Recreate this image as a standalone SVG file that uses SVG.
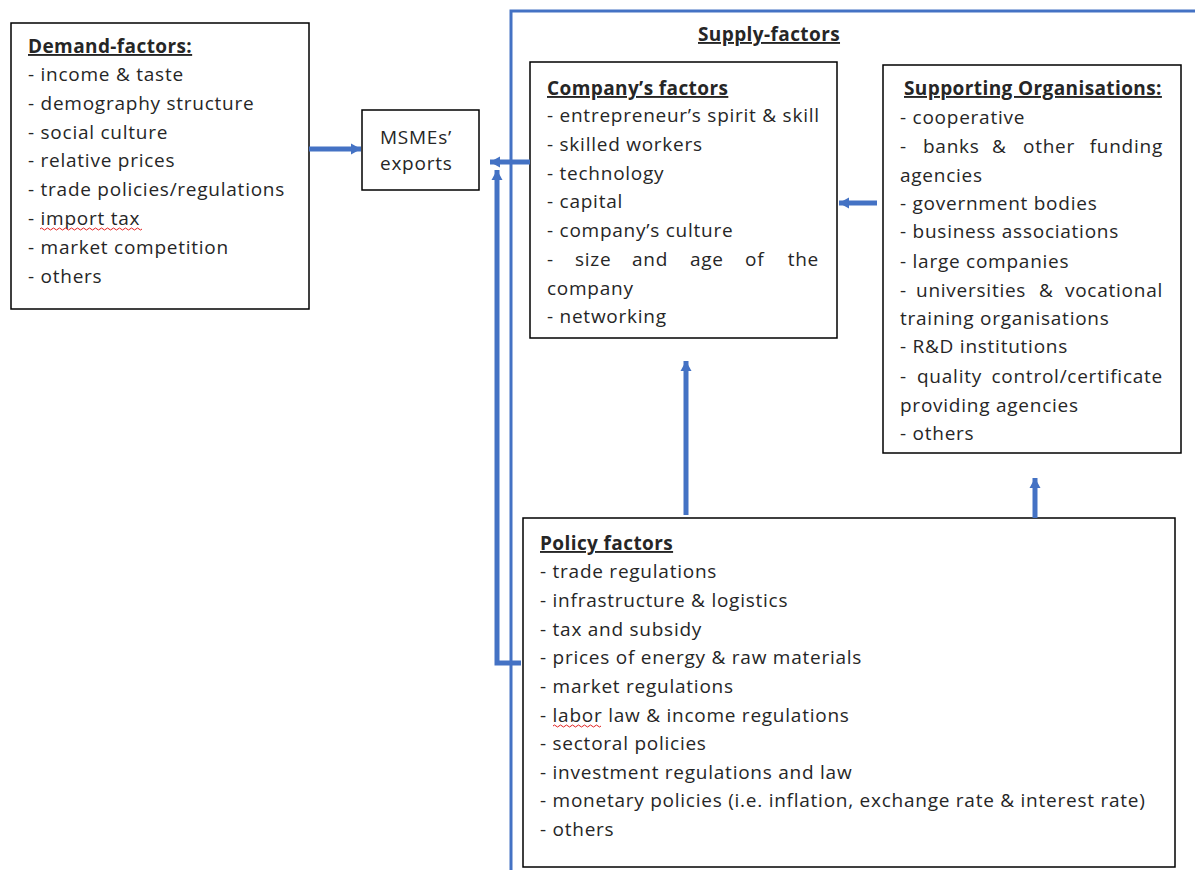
<svg xmlns="http://www.w3.org/2000/svg" width="1195" height="870" viewBox="0 0 1195 870">
<defs>
<style>
text{font-family:"Open Sans","Liberation Sans",sans-serif;font-size:19px;letter-spacing:0.75px;fill:#262626}
.h{font-weight:bold;text-decoration:underline;letter-spacing:0.4px}
.e{text-anchor:end}
.box{fill:#fff;stroke:#000;stroke-width:1.5}
.c{fill:none;stroke:#4472C4;stroke-width:5}
.sq{fill:none;stroke:#e02020;stroke-width:1}
</style>
<marker id="ah" markerUnits="userSpaceOnUse" markerWidth="14" markerHeight="14" refX="10" refY="7" orient="auto">
<path d="M0,1.5 L10,7 L0,12.5 Z" fill="#4472C4"/>
</marker>
</defs>
<rect width="1195" height="870" fill="#fff"/>
<g id="supply-frame">
<path d="M511,872 V11 H1197" fill="none" stroke="#4472C4" stroke-width="3"/>
<text x="698" y="41" class="h">Supply-factors</text>
</g>
<g id="demand">
<rect class="box" x="11" y="23" width="298" height="286"/>
<text x="28" y="53" class="h">Demand-factors:</text>
<text x="28" y="81">- income &amp; taste</text>
<text x="28" y="110">- demography structure</text>
<text x="28" y="139">- social culture</text>
<text x="28" y="167">- relative prices</text>
<text x="28" y="196">- trade policies/regulations</text>
<text x="28" y="225">- import tax</text>
<path class="sq" d="M40,229 q1.5,-2 3,0 t3,0 t3,0 t3,0 t3,0 t3,0 t3,0 t3,0 t3,0 t3,0 t3,0 t3,0 t3,0 t3,0 t3,0 t3,0 t3,0 t3,0 t3,0 t3,0 t3,0 t3,0 t3,0 t3,0 t3,0 t3,0 t3,0 t3,0 t3,0 t3,0 t3,0 t3,0 t3,0 t3,0"/>
<text x="28" y="254">- market competition</text>
<text x="28" y="283">- others</text>
</g>
<g id="msmes">
<rect class="box" x="362" y="110" width="117" height="80"/>
<text x="380" y="144">MSMEs’</text>
<text x="380" y="170">exports</text>
</g>
<g id="company">
<rect class="box" x="530" y="62" width="307" height="276"/>
<text x="547" y="95" class="h">Company’s factors</text>
<text x="547" y="122">- entrepreneur’s spirit &amp; skill</text>
<text x="547" y="151">- skilled workers</text>
<text x="547" y="180">- technology</text>
<text x="547" y="208">- capital</text>
<text x="547" y="237">- company’s culture</text>
<text x="547" y="266">-</text><text x="575" y="266">size</text><text x="632" y="266">and</text><text x="690" y="266">age</text><text x="745" y="266">of</text><text class="e" x="819" y="266">the</text>
<text x="547" y="295">company</text>
<text x="547" y="323">- networking</text>
</g>
<g id="supporting">
<rect class="box" x="883" y="65" width="298" height="388"/>
<text x="904" y="95" class="h">Supporting Organisations:</text>
<text x="900" y="124">- cooperative</text>
<text x="900" y="153">-</text><text x="923" y="153">banks</text><text x="992" y="153">&amp;</text><text x="1023" y="153">other</text><text class="e" x="1163" y="153">funding</text>
<text x="900" y="182">agencies</text>
<text x="900" y="210">- government bodies</text>
<text x="900" y="238">- business associations</text>
<text x="900" y="268">- large companies</text>
<text x="900" y="297">-</text><text x="916" y="297">universities</text><text x="1039" y="297">&amp;</text><text class="e" x="1163" y="297">vocational</text>
<text x="900" y="325">training organisations</text>
<text x="900" y="353">- R&amp;D institutions</text>
<text x="900" y="383">-</text><text x="917" y="383">quality</text><text class="e" x="1163" y="383">control/certificate</text>
<text x="900" y="412">providing agencies</text>
<text x="900" y="440">- others</text>
</g>
<g id="policy">
<rect class="box" x="523" y="518" width="652" height="349"/>
<text x="540" y="550" class="h">Policy factors</text>
<text x="540" y="578">- trade regulations</text>
<text x="540" y="607">- infrastructure &amp; logistics</text>
<text x="540" y="636">- tax and subsidy</text>
<text x="540" y="664">- prices of energy &amp; raw materials</text>
<text x="540" y="693">- market regulations</text>
<text x="540" y="722">- labor law &amp; income regulations</text>
<path class="sq" d="M553,726 q1.5,-2 3,0 t3,0 t3,0 t3,0 t3,0 t3,0 t3,0 t3,0 t3,0 t3,0 t3,0 t3,0 t3,0 t3,0 t3,0 t3,0"/>
<text x="540" y="750">- sectoral policies</text>
<text x="540" y="779">- investment regulations and law</text>
<text x="540" y="807">- monetary policies (i.e. inflation, exchange rate &amp; interest rate)</text>
<text x="540" y="836">- others</text>
</g>
<g id="connectors">
<path class="c" d="M309,149 H361" marker-end="url(#ah)"/>
<path class="c" d="M530,162 H490" marker-end="url(#ah)"/>
<path class="c" d="M521,663 H497 V170" marker-end="url(#ah)"/>
<path class="c" d="M877,203 H839" marker-end="url(#ah)"/>
<path class="c" d="M686,515 V361" marker-end="url(#ah)"/>
<path class="c" d="M1035,518 V478" marker-end="url(#ah)"/>
</g>
</svg>
